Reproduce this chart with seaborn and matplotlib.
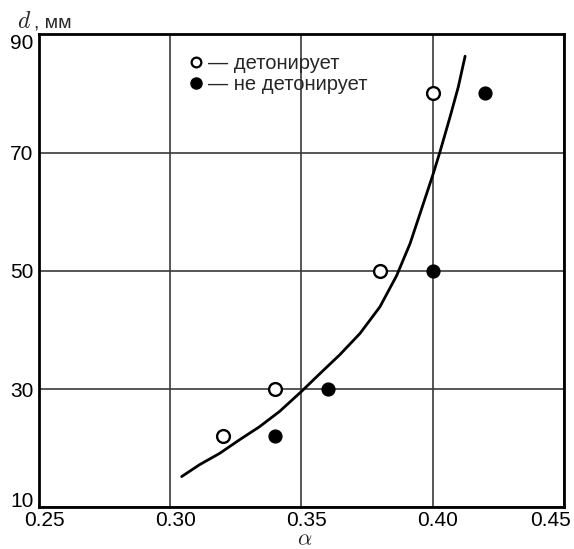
import matplotlib
matplotlib.use("Agg")
import matplotlib.pyplot as plt
import matplotlib.transforms as mtransforms
import seaborn as sns
import pandas as pd
from matplotlib.lines import Line2D

sns.set_theme(style="white")
plt.rcParams['font.family'] = ['Liberation Sans', 'DejaVu Sans']
plt.rcParams['mathtext.fontset'] = 'cm'

# data
det_x = [0.32, 0.34, 0.38, 0.40]
det_y = [22, 30, 50, 80]
nodet_x = [0.34, 0.36, 0.40, 0.42]
nodet_y = [22, 30, 50, 80]
curve_x = [0.3043, 0.3111, 0.3187, 0.3263, 0.3339, 0.3416, 0.3500, 0.3570, 0.3646, 0.3723,
           0.3799, 0.3863, 0.3914, 0.3965, 0.4003, 0.4028, 0.4067, 0.4098, 0.4124]
curve_y = [15.2, 17.2, 19.1, 21.4, 23.6, 26.2, 29.6, 32.6, 35.8, 39.4,
           43.9, 49.2, 54.6, 61.4, 66.5, 70.1, 76.1, 81.1, 86.3]
x_ticks = [0.25, 0.30, 0.35, 0.40, 0.45]
x_ticklabels = ["0.25", "0.30", "0.35", "0.40", "0.45"]
y_ticks = [10, 30, 50, 70, 90]
y_ticklabels = ["10", "30", "50", "70", "90"]
legend_labels = ["— детонирует", "— не детонирует"]

fig = plt.figure(figsize=(5.74, 5.49), dpi=100)
ax = fig.add_axes([39.3/574, 41.7/549, 524.4/574, 473/549])

curve = pd.DataFrame({"x": curve_x, "y": curve_y})
sns.lineplot(data=curve, x="x", y="y", sort=False, color="black", lw=2.0, ax=ax, zorder=3)

sns.scatterplot(x=det_x, y=det_y, ax=ax, s=85, facecolor="white", edgecolor="black",
                linewidth=1.7, zorder=4)
sns.scatterplot(x=nodet_x, y=nodet_y, ax=ax, s=85, color="black", edgecolor="black",
                linewidth=1.0, zorder=4)

ax.set_xlim(0.25, 0.45)
ax.set_ylim(10, 90)
ax.set_xticks(x_ticks)
ax.set_xticklabels(x_ticklabels)
ax.set_yticks(y_ticks)
ax.set_yticklabels(y_ticklabels)
ax.tick_params(axis='both', length=0, labelsize=15, colors="black")
ax.tick_params(axis='x', pad=3)
ax.tick_params(axis='y', pad=4)
ax.grid(True, color="#3a3a3a", lw=1.2)
for s in ax.spines.values():
    s.set_color("black")
    s.set_linewidth(2.0)
ax.set_xlabel("")
ax.set_ylabel("")

# nudge tick labels as in the reference
def shift(lbl, dx_px, dy_px):
    off = mtransforms.ScaledTranslation(dx_px / 100, dy_px / 100, fig.dpi_scale_trans)
    lbl.set_transform(lbl.get_transform() + off)

xl = ax.get_xticklabels()
for i, lbl in enumerate(xl):
    if i == len(xl) - 1:
        lbl.set_horizontalalignment("right")
        shift(lbl, 7, 0)
    else:
        shift(lbl, 5, 0)
yl = ax.get_yticklabels()
yl[0].set_verticalalignment("baseline")
yl[-1].set_verticalalignment("top")

fig.text(17/574, 1 - 28/549, "$d$", fontsize=17, ha="left", va="baseline")
fig.text(34/574, 1 - 28/549, ", мм", fontsize=14, ha="left", va="baseline")
fig.text(305/574, 1 - 545/549, r"$\alpha$", fontsize=16, ha="center", va="baseline")

handles = [
    Line2D([], [], ls="none", marker="o", markersize=7, markerfacecolor="white",
           markeredgecolor="black", markeredgewidth=1.6),
    Line2D([], [], ls="none", marker="o", markersize=8, markerfacecolor="black",
           markeredgecolor="black"),
]
ax.legend(handles, legend_labels, loc="upper left", bbox_to_anchor=(0.283, 0.958),
          frameon=False, fontsize=14.5, handlelength=0.8, handletextpad=0.2,
          labelspacing=0.1, borderpad=0, borderaxespad=0)

fig.savefig("out.png", dpi=100)
